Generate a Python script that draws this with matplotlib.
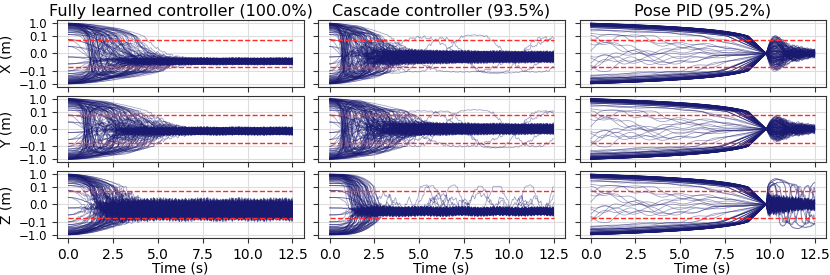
import numpy as np
import matplotlib
matplotlib.use('Agg')
import matplotlib.pyplot as plt
from matplotlib.ticker import FixedLocator, FuncFormatter, NullLocator

titles = ['Fully learned controller (100.0%)', 'Cascade controller (93.5%)', 'Pose PID (95.2%)']
axis_names = ['X', 'Y', 'Z']
y_ticks = [-1.0, -0.1, 0.0, 0.1, 1.0]
x_ticks = [0.0, 2.5, 5.0, 7.5, 10.0, 12.5]
t_end = 12.5
dt = 0.02
tol = 0.08          # red dashed bounds (m)
n_runs = 140

start_pos = [0.98, -0.97, 0.93, -0.90, 0.86, -0.84, 0.80, -0.77, 0.74, -0.70,
             0.66, -0.63, 0.60, -0.56, 0.52, -0.49, 0.45, -0.42, 0.38, -0.35,
             0.31, -0.28, 0.25, -0.22, 0.19, -0.16, 0.13, -0.10, 0.08, -0.06,
             0.04, -0.02, 0.95, -0.99, 0.90, -0.92, 0.83, -0.88, 0.70, -0.80]
# pose PID runs: the thick outer band near +-1, only a few inner ones
pid_start = [0.99, -0.98, 0.95, -0.94, 0.91, -0.90, 0.87, -0.85, 0.82, -0.80,
             0.77, -0.75, 0.71, -0.68, 0.64, -0.60, 0.55, -0.50, 0.45, -0.40,
             0.97, -0.96, 0.89, -0.92, 0.84, -0.86, 0.73, -0.78, 0.62, -0.66,
             0.30, -0.22, 0.12, -0.07, 0.04, -0.03, 0.93, -0.97, 0.58, -0.35]
# where each run sits inside the settled band (-1 .. 1)
band_pos = [0.1, -0.6, 0.8, -0.2, 0.4, -0.9, 0.6, 0.0, -0.4, 1.0, -0.7, 0.3, -0.1,
            0.7, -0.5, 0.2, -0.8, 0.5, -0.3, 0.9, -1.0, 0.15, -0.45, 0.65, -0.25]
speed_fac = [1.0, 0.7, 1.3, 0.85, 1.15, 0.6, 1.4, 0.95, 0.75, 1.25, 0.9, 1.05, 0.65,
             1.35, 0.8, 1.1, 1.2]
osc_freq = [0.0, 0.9, 0.0, 1.4, 0.5, 0.0, 1.1, 0.0, 1.6, 0.3, 0.7, 0.0, 1.25]
phase = [0.0, 1.7, 3.1, 4.4, 0.8, 2.5, 5.3, 3.9, 1.2, 5.9, 2.1, 4.8, 0.4]
loop_amp = [0.45, 0.2, 0.3, 0.15, 0.5, 0.25]
loop_freq = [2.1, 3.4, 1.6, 4.2, 2.7, 5.0]

# per column (learned, cascade, pid) and per row (X, Y, Z)
band_center = [[-0.045, -0.012, -0.03], [-0.02, 0.0, -0.04], [0.0, 0.0, 0.0]]
band_half = [[0.015, 0.016, 0.045], [0.05, 0.045, 0.022], [0.01, 0.01, 0.02]]
settle = [[2.3, 2.3, 1.6], [1.7, 2.1, 1.5], [9.8, 9.8, 9.8]]
osc_scale = [[0.8, 1.1, 0.5], [1.4, 1.4, 0.0], [0.0, 0.0, 0.0]]
noise = [[0.006, 0.008, 0.02], [0.009, 0.009, 0.014], [0.005, 0.006, 0.022]]
pid_post_amp = [0.15, 0.1, 0.07]
pid_post_freq = [2.2, 2.0, 9.0]
pid_post_tau = [1.4, 1.8, 1.5]

t = np.arange(0, t_end + 1e-9, dt)


def jitter(i, amp):
    p = phase[i % 13]
    return amp * (0.6 * np.sin(17.3 * t + p) + 0.4 * np.sin(31.7 * t + 2.3 * p)
                  + 0.3 * np.sin(53.1 * t + 0.7 * p))


def run(col, row, i):
    s = start_pos[i % 40]
    v = speed_fac[i % 17]
    w = osc_freq[i % 13] * osc_scale[col][row]
    p = phase[i % 13]
    u = band_pos[i % 25]
    c = band_center[col][row]
    h = band_half[col][row]
    if col == 0:
        e = c + h * u
        g = np.exp(-(t / (settle[col][row] * v)) ** 2)
        return e + (s - e) * g * np.cos(w * t) + jitter(i, noise[col][row]) * (1 - g)
    if col == 1:
        e = c + h * u * (0.45 + 0.55 * np.exp(-t / 5.0))
        if row == 2:
            g = np.exp(-(t / (settle[col][row] * v)) ** 4)
            y = e + (s - e) * g
            if i % 9 == 0:
                a = loop_amp[(i // 9) % 6] * 0.35
                f = loop_freq[(i // 9) % 6] * 0.4
                y = y + a * np.clip(np.sin(f * t + p), 0, None) ** 8 * (t > 2.5)
        else:
            g = np.exp(-(t / (settle[col][row] * v)) ** 2)
            y = e + (s - e) * g * np.cos(w * t)
            if i % 35 == 3:
                y = y + 0.12 * np.sin(0.8 * v * t + p) * (1 - g)
        return y + jitter(i, noise[col][row]) * (1 - g)
    # pose PID: linear ramp to the goal, then a kick
    s = pid_start[i % 40]
    T0 = settle[col][row]
    ramp = np.clip(1 - t / T0, 0, None)
    wander = 0.0
    if abs(s) < 0.4:
        wander = 0.035 * (np.sin(1.1 * v * t + p) + 0.5 * np.sin(3.7 * t + 2 * p))
    y = (s + wander) * ramp
    tt = np.clip(t - T0, 0, None)
    amp = pid_post_amp[row] * u
    if row == 2 and i % 12 == 0:
        a = loop_amp[(i // 12) % 6]
        f = loop_freq[(i // 12) % 6]
        post = a * np.sin(f * tt) * np.exp(-tt / 4.0)
    else:
        post = amp * np.sin(pid_post_freq[row] * v * tt) * np.exp(-tt / pid_post_tau[row])
    y = y + post + jitter(i, noise[col][row]) * (t > T0) * (1 - np.exp(-tt * 3))
    return y


fig, axes = plt.subplots(3, 3, figsize=(8.3, 2.75), dpi=100, sharex=True, sharey=True)
fig.subplots_adjust(left=0.069, right=0.995, top=0.927, bottom=0.135, wspace=0.06, hspace=0.13)

for col in range(3):
    for row in range(3):
        ax = axes[row, col]
        ax.set_yscale('symlog', linthresh=0.1, linscale=1.2)
        for i in range(n_runs):
            ax.plot(t, run(col, row, i), color='#191970', lw=0.55, alpha=0.42)
        ax.plot([0, t_end], [tol, tol], '--', color='#ff2a2a', lw=1.0, zorder=3)
        ax.plot([0, t_end], [-tol, -tol], '--', color='#ff2a2a', lw=1.0, zorder=3)
        ax.grid(True, color='#dddddd', lw=0.8)
        ax.set_axisbelow(True)
        for sp in ax.spines.values():
            sp.set_color('#333333')
        ax.tick_params(labelsize=10, length=3.5, color='#333333')
        ax.tick_params(axis='y', labelsize=8.5)
        if col == 0:
            ax.set_ylabel(axis_names[row] + ' (m)', fontsize=10)
        if row == 0:
            ax.set_title(titles[col], fontsize=11.5, pad=3)
        if row == 2:
            ax.set_xlabel('Time (s)', fontsize=10, labelpad=0)

ax0 = axes[0, 0]
ax0.xaxis.set_major_locator(FixedLocator(x_ticks))
ax0.yaxis.set_major_locator(FixedLocator(y_ticks))
ax0.yaxis.set_minor_locator(NullLocator())
ax0.yaxis.set_major_formatter(FuncFormatter(lambda v, _: f'{v:.1f}'.replace('-', '\u2212')))

fig.savefig('out.png', dpi=100)
